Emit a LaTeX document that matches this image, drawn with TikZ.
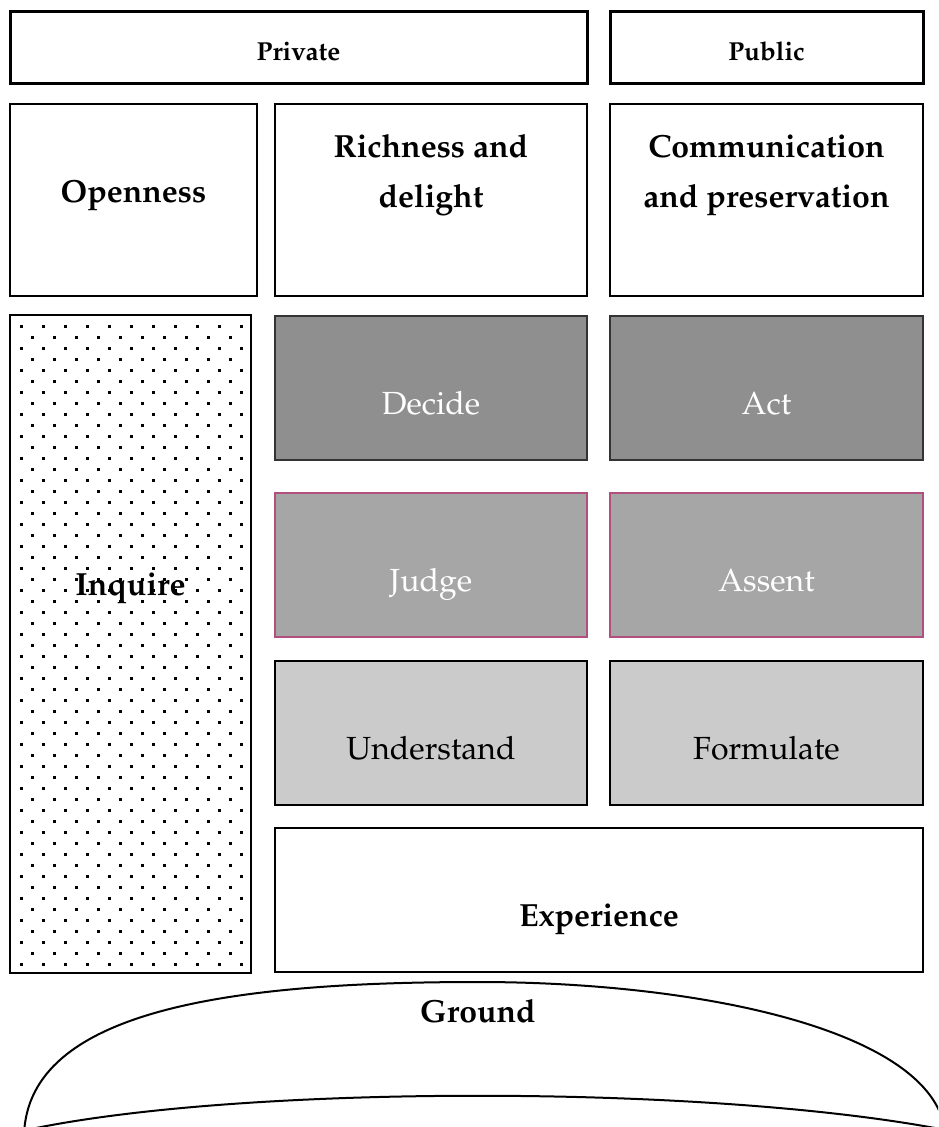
\documentclass[tikz,border=0pt]{standalone}
\usepackage[T1]{fontenc}
\usepackage{palatino}
\usetikzlibrary{positioning}
\definecolor{darkfill}{HTML}{8F8F8F}
\definecolor{midfill}{HTML}{A6A6A6}
\definecolor{lightfill}{HTML}{CBCBCB}
\definecolor{pinkline}{HTML}{B0507E}

\begin{document}
\begin{tikzpicture}[x=1pt,y=-1pt,
		head/.style={draw,line width=3pt,outer sep=0pt,inner sep=0pt,minimum height=72pt},
		plain/.style={draw,fill=white,line width=1.5pt,outer sep=0pt,inner sep=0pt,minimum height=192pt},
		dotbox/.style={draw,fill=white,line width=1.5pt,outer sep=0pt,inner sep=0pt},
		dark/.style={draw=black!80,fill=darkfill,line width=1.5pt,outer sep=0pt,inner sep=0pt,minimum width=312pt,minimum height=144pt},
		mid/.style={draw=pinkline,fill=midfill,line width=1.5pt,outer sep=0pt,inner sep=0pt,minimum width=312pt,minimum height=144pt},
		light/.style={draw,fill=lightfill,line width=1.5pt,outer sep=0pt,inner sep=0pt,minimum width=312pt,minimum height=144pt},
		headlbl/.style={font=\fontsize{26}{30}\selectfont\bfseries,text height=18pt,text depth=6.5pt},
		boldlbl/.style={font=\fontsize{32}{50}\selectfont\bfseries,text height=22pt,text depth=8pt},
		twolbl/.style={font=\fontsize{32}{50}\selectfont\bfseries,align=center},
		lbl/.style={font=\fontsize{32}{50}\selectfont,text height=22pt,text depth=8pt},
		groundline/.style={line width=2pt}]

		\useasboundingbox (0,0) rectangle (938,1127);

		\node[head,minimum width=577pt] 								(priv)	at (298.5,47) {};
		\node[head,minimum width=313pt,right=23pt of priv] 				(pub)	{};

		\node[plain,minimum width=247pt,below=21pt of priv.south west,anchor=north west]	(open)	{};
		\node[plain,minimum width=312pt,right=18pt of open] 			(rich)	{};
		\node[plain,minimum width=313pt,right=23pt of rich] 			(comm)	{};

		\node[dotbox,minimum width=241pt,minimum height=658pt,below=19pt of open.south west,anchor=north west]	(inq)	{};
		\node[dark,below=20pt of rich] 									(dec)	{};
		\node[dark,minimum width=313pt,right=23pt of dec] 				(act)	{};
		\node[mid,below=33pt of dec] 									(judge)	{};
		\node[mid,minimum width=313pt,right=23pt of judge] 				(assent){};
		\node[light,below=24pt of judge] 								(under)	{};
		\node[light,minimum width=313pt,right=23pt of under] 			(form)	{};
		\node[plain,minimum width=648pt,minimum height=144pt,below=23pt of under.south west,anchor=north west]	(exp)	{};

		\foreach \i in {0,...,10}
			\foreach \j in {0,...,29}
				\fill (20+22*\i,325+22*\j) rectangle ++(2.5,2.5);
		\foreach \i in {0,...,9}
			\foreach \j in {0,...,28}
				\fill (31+22*\i,336+22*\j) rectangle ++(2.5,2.5);

		\node[headlbl] 				(privT)		at ([yshift=-8pt]priv.center) 	{Private};
		\node[headlbl] 				(pubT)		at ([yshift=-8pt]pub.center) 	{Public};
		\node[boldlbl] 				(openT)		at ([yshift=5pt]open.center) 	{Openness};
		\node[twolbl] 				(richT)		at ([yshift=25pt]rich.center) 	{Richness and\\delight};
		\node[twolbl] 				(commT)		at ([yshift=25pt]comm.center) 	{Communication\\and preservation};
		\node[boldlbl] 				(inqT)		at ([yshift=56pt]inq.center) 	{Inquire};
		\node[lbl,text=white] 		(decT)		at ([yshift=-19pt]dec.center) 	{Decide};
		\node[lbl,text=white] 		(actT)		at ([yshift=-19pt]act.center) 	{Act};
		\node[lbl,text=white] 		(judgeT)	at ([yshift=-19pt]judge.center) {Judge};
		\node[lbl,text=white] 		(assentT)	at ([yshift=-19pt]assent.center){Assent};
		\node[lbl] 					(underT)	at ([yshift=-19pt]under.center) {Understand};
		\node[lbl] 					(formT)		at ([yshift=-19pt]form.center) 	{Formulate};
		\node[boldlbl] 				(expT)		at ([yshift=-19pt]exp.center) 	{Experience};
		\node[boldlbl] 				(groundT)	at (478,1015) 					{Ground};

		\begin{scope}
			\clip (0,0) rectangle (938,1127);
			\draw[groundline] (24,1135) .. controls (28,1010) and (230,982) .. (478,982)
				.. controls (700,982) and (930,1030) .. (945,1130);
			\draw[groundline] (36,1128) .. controls (250,1085) and (700,1085) .. (935,1128);
		\end{scope}
	\end{tikzpicture}
\end{document}
